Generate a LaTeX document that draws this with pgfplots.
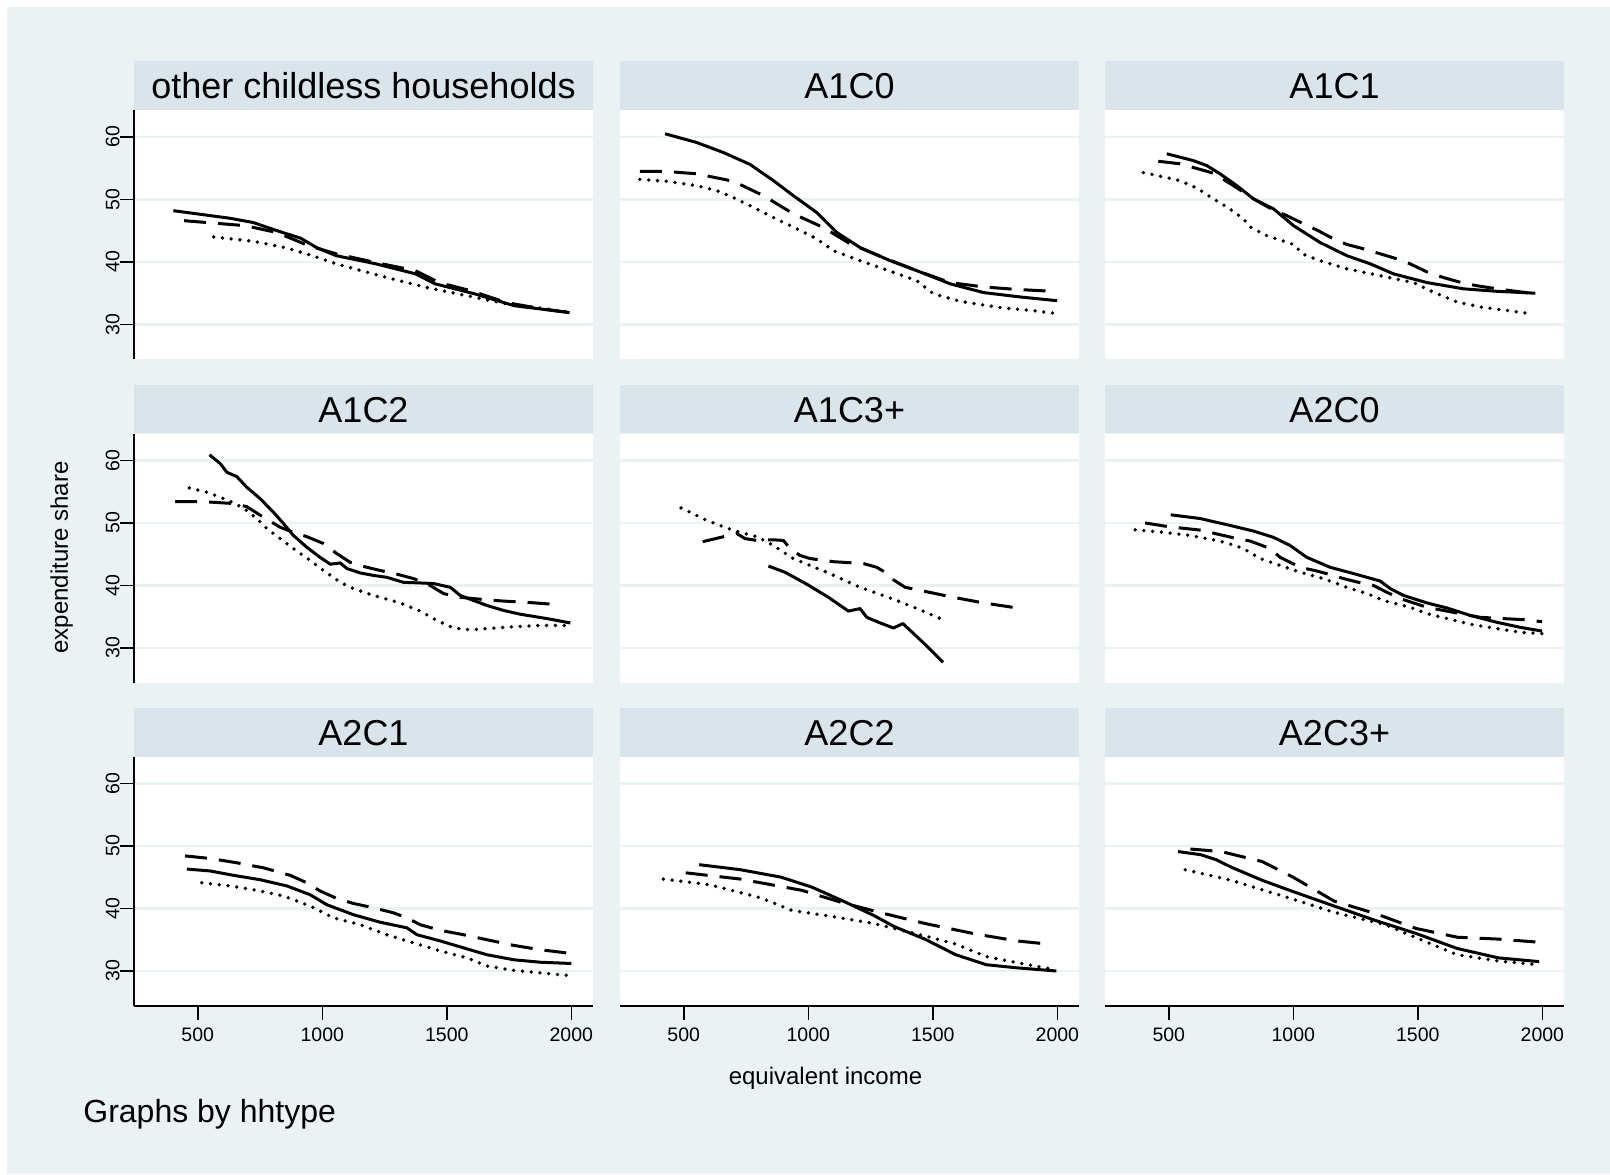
\documentclass[border=0pt]{standalone}
\usepackage{fontspec}
\setmainfont{Liberation Sans}
\usepackage{pgfplots}
\pgfplotsset{compat=1.18}
\definecolor{bgc}{RGB}{234,242,243}
\definecolor{stripc}{RGB}{217,229,234}
\definecolor{gridc}{RGB}{234,242,243}
\pgfplotsset{
  base/.style={
    scale only axis, width=229.5pt, height=124.75pt, anchor=south west,
    xmin=244, xmax=2087, ymin=24.4, ymax=64.3,
    axis lines*=left,
    xtick={500,1000,1500,2000}, ytick={30,40,50,60},
    ymajorgrids, grid style={gridc, line width=1.25pt},
    tick align=outside, major tick length=7pt,
    tick style={black, line width=0.75pt},
    axis line style={black, line width=1pt},
    axis background/.style={fill=white},
    ticklabel style={font=\fontsize{9.75}{11}\selectfont},
    /pgf/number format/assume math mode=true,
    /pgf/number format/1000 sep={},
    xticklabel style={anchor=north, inner sep=0pt, yshift=-3.5pt},
    yticklabel style={rotate=90, anchor=south, inner sep=0pt},
  },
  nox/.style={x axis line style={draw=none}, xtick style={draw=none}, xticklabels={}},
  noy/.style={y axis line style={draw=none}, ytick style={draw=none}, yticklabels={}},
  s1/.style={black, line width=1.5pt, line join=round},
  s2/.style={black, line width=1.5pt, line join=round, dash pattern=on 11pt off 6pt},
  s3/.style={black, line width=1.9pt, line cap=round, dash pattern=on 0pt off 4.4pt},
}
\begin{document}
\begin{tikzpicture}
\useasboundingbox (0,0) rectangle (805pt,587pt);
\fill[white] (0,0) rectangle (805pt,587pt);
\fill[bgc] (3.5pt,0) rectangle (805pt,583.5pt);
% strips
\foreach \cx in {67,310,552.5}{
  \foreach \ty in {556.25,394.5,233}{
    \fill[stripc] (\cx pt,\ty pt) rectangle ({\cx pt+229.5pt},{\ty pt-24.25pt});
  }
}
\tikzset{ttl/.style={anchor=base, inner sep=0pt, font=\fontsize{18}{20}\selectfont}}
\node[ttl] at (181.75pt,537.7pt) {other childless households};
\node[ttl] at (424.75pt,537.7pt) {A1C0};
\node[ttl] at (667.25pt,537.7pt) {A1C1};
\node[ttl] at (181.75pt,375.95pt) {A1C2};
\node[ttl] at (424.75pt,375.95pt) {A1C3+};
\node[ttl] at (667.25pt,375.95pt) {A2C0};
\node[ttl] at (181.75pt,214.45pt) {A2C1};
\node[ttl] at (424.75pt,214.45pt) {A2C2};
\node[ttl] at (667.25pt,214.45pt) {A2C3+};
\node[anchor=base, inner sep=0pt, font=\fontsize{12}{14}\selectfont] at (412.75pt,45pt) {equivalent income};
\node[anchor=base, inner sep=0pt, rotate=90, font=\fontsize{12}{14}\selectfont] at (33.9pt,308.25pt) {expenditure share};
\node[anchor=base west, inner sep=0pt, font=\fontsize{16}{18}\selectfont] at (41.5pt,25.85pt) {Graphs by hhtype};

% Panel 1
\begin{axis}[base, nox, at={(67pt,407.25pt)}]
\addplot[s1] coordinates {(402,48.2) (627,47.0) (723,46.3) (818,45.0) (913,43.8) (977,42.3) (1056,41.0) (1215,39.7) (1374,38.1) (1453,36.5) (1612,34.9) (1771,33.0) (1993,31.9)};
\addplot[s2] coordinates {(445,46.6) (691,45.8) (818,44.7) (945,42.6) (1056,41.3) (1215,39.9) (1374,38.6) (1469,36.7) (1596,35.4) (1739,33.5) (1882,32.5) (1993,31.9)};
\addplot[s3] coordinates {(564,44.0) (723,43.3) (850,42.3) (961,41.0) (1056,39.7) (1167,38.5) (1279,37.3) (1421,35.9) (1580,34.6) (1739,33.3) (1898,32.5) (1993,31.9)};
\end{axis}
% Panel 2
\begin{axis}[base, nox, noy, at={(310pt,407.25pt)}]
\addplot[s1] coordinates {(425,60.5) (552,59.1) (659,57.5) (766,55.6) (860,53.0) (940,50.6) (1034,47.9) (1115,44.7) (1208,42.3) (1329,40.2) (1436,38.6) (1570,36.5) (1704,35.1) (1851,34.4) (1999,33.8)};
\addplot[s2] coordinates {(324,54.5) (418,54.5) (552,54.1) (699,52.9) (820,50.6) (940,47.7) (1061,45.5) (1168,42.9) (1302,40.7) (1436,38.6) (1570,36.7) (1704,36.0) (1838,35.6) (1985,35.3)};
\addplot[s3] coordinates {(324,53.2) (432,52.9) (552,52.2) (633,51.4) (699,50.3) (766,49.0) (860,47.1) (954,45.3) (1034,43.7) (1101,41.8) (1208,40.2) (1302,38.9) (1436,37.0) (1503,34.9) (1610,33.7) (1771,32.7) (1905,32.2) (1985,31.8)};
\end{axis}
% Panel 3
\begin{axis}[base, nox, noy, at={(552.5pt,407.25pt)}]
\addplot[s1] coordinates {(492,57.3) (599,56.2) (653,55.4) (706,54.1) (773,52.2) (840,50.1) (920,48.5) (1001,45.8) (1108,43.1) (1215,41.0) (1309,39.7) (1402,38.1) (1537,36.7) (1684,35.7) (1818,35.3) (1972,35.0)};
\addplot[s2] coordinates {(458,56.1) (545,55.7) (599,55.1) (679,54.2) (760,52.2) (840,50.1) (920,48.3) (974,47.4) (1041,46.1) (1095,45.1) (1161,43.7) (1215,42.8) (1282,42.1) (1349,41.3) (1416,40.5) (1469,39.7) (1537,38.4) (1603,37.5) (1684,36.6) (1737,36.2) (1818,35.7) (1972,34.9)};
\addplot[s3] coordinates {(398,54.3) (478,53.6) (545,53.0) (613,51.8) (679,50.1) (733,48.8) (800,46.9) (827,45.6) (894,44.2) (1001,42.8) (1041,41.2) (1108,40.2) (1215,38.9) (1349,37.8) (1483,36.7) (1550,35.4) (1657,33.6) (1751,32.8) (1885,32.1) (1958,31.7)};
\end{axis}
% Panel 4
\begin{axis}[base, nox, at={(67pt,245.5pt)}]
\addplot[s1] coordinates {(547,60.9) (590,59.5) (617,58.1) (657,57.4) (697,55.7) (750,53.9) (804,51.7) (844,49.9) (884,48.0) (938,46.1) (991,44.5) (1032,43.4) (1072,43.6) (1099,42.7) (1152,42.0) (1206,41.6) (1259,41.3) (1326,40.5) (1393,40.4) (1447,40.3) (1514,39.7) (1554,38.4) (1607,37.6) (1661,36.8) (1728,36.0) (1795,35.4) (1902,34.7) (1996,34.0)};
\addplot[s2] coordinates {(409,53.4) (509,53.4) (563,53.3) (643,53.1) (697,52.6) (764,50.9) (831,49.3) (884,48.5) (938,47.8) (1005,46.7) (1058,45.1) (1112,43.7) (1179,42.9) (1232,42.4) (1300,41.8) (1366,41.1) (1433,40.0) (1487,38.7) (1554,38.1) (1634,37.8) (1728,37.5) (1822,37.3) (1922,37.0)};
\addplot[s3] coordinates {(466,55.6) (536,54.9) (617,53.7) (683,52.4) (737,50.7) (777,49.1) (831,47.5) (884,45.9) (951,44.0) (1005,42.4) (1072,40.5) (1125,39.5) (1206,38.4) (1313,37.2) (1393,35.9) (1460,34.4) (1527,33.2) (1594,32.9) (1661,33.1) (1768,33.4) (1875,33.6) (1983,33.6)};
\end{axis}
% Panel 5
\begin{axis}[base, nox, noy, at={(310pt,245.5pt)}]
\addplot[s1] coordinates {(840,43.1) (907,42.1) (994,40.2) (1081,38.1) (1161,35.9) (1208,36.3) (1235,34.9) (1289,34.0) (1342,33.2) (1380,33.9) (1463,30.8) (1541,27.7)};
\addplot[s2] coordinates {(576,47.0) (713,48.3) (746,47.5) (793,47.2) (860,47.3) (900,47.2) (927,45.9) (967,44.8) (1007,44.3) (1101,43.8) (1222,43.5) (1275,42.9) (1309,42.1) (1342,40.9) (1389,39.7) (1463,39.1) (1570,38.2) (1704,37.2) (1838,36.4)};
\addplot[s3] coordinates {(489,52.4) (592,50.4) (699,48.8) (793,47.8) (860,46.4) (940,44.3) (1075,42.1) (1208,39.7) (1342,37.8) (1449,36.1) (1530,34.7)};
\end{axis}
% Panel 6
\begin{axis}[base, nox, noy, at={(552.5pt,245.5pt)}]
\addplot[s1] coordinates {(508,51.3) (626,50.7) (746,49.6) (840,48.7) (920,47.7) (987,46.4) (1054,44.5) (1148,42.9) (1242,41.9) (1349,40.7) (1389,39.5) (1443,38.4) (1537,37.2) (1617,36.4) (1711,35.2) (1818,34.1) (1911,33.3) (1999,32.7)};
\addplot[s2] coordinates {(405,50.0) (498,49.4) (545,49.2) (639,48.8) (686,48.3) (773,47.5) (827,47.1) (907,45.9) (947,44.5) (1028,42.9) (1095,42.3) (1161,41.6) (1201,41.1) (1282,40.3) (1322,40.0) (1376,38.9) (1429,37.9) (1537,36.5) (1643,35.7) (1751,34.9) (1844,34.7) (1938,34.5) (1999,34.2)};
\addplot[s3] coordinates {(365,48.9) (478,48.5) (586,48.0) (679,47.3) (733,46.8) (800,45.9) (867,44.3) (947,43.2) (1028,42.1) (1121,41.1) (1215,39.7) (1296,38.7) (1362,37.6) (1469,36.5) (1537,35.5) (1617,34.7) (1711,33.8) (1818,33.1) (1911,32.5) (1999,32.3)};
\end{axis}
% Panel 7
\begin{axis}[base, at={(67pt,84pt)}]
\addplot[s1] coordinates {(456,46.3) (549,46.0) (643,45.3) (750,44.6) (858,43.6) (951,42.2) (1018,40.6) (1125,39.0) (1232,37.8) (1340,36.9) (1380,35.8) (1474,34.8) (1567,33.7) (1661,32.6) (1768,31.8) (1875,31.4) (2000,31.2)};
\addplot[s2] coordinates {(449,48.4) (549,48.0) (657,47.3) (764,46.5) (871,45.3) (938,44.1) (991,42.8) (1058,41.6) (1125,40.8) (1206,40.1) (1286,39.3) (1340,38.5) (1393,37.4) (1474,36.5) (1567,35.8) (1661,35.0) (1768,34.1) (1875,33.4) (2000,32.8)};
\addplot[s3] coordinates {(516,44.1) (630,43.6) (737,42.9) (844,42.0) (951,40.4) (1045,38.5) (1152,37.4) (1259,35.8) (1366,34.5) (1474,33.2) (1581,32.1) (1661,30.8) (1768,30.1) (1875,29.7) (1983,29.3)};
\end{axis}
% Panel 8
\begin{axis}[base, noy, at={(310pt,84pt)}]
\addplot[s1] coordinates {(562,47.0) (727,46.2) (891,45.0) (1015,43.4) (1139,41.2) (1262,38.9) (1345,37.1) (1468,35.1) (1592,32.6) (1715,31.0) (1839,30.5) (1996,30.0)};
\addplot[s2] coordinates {(508,45.7) (727,44.7) (974,42.9) (1139,40.9) (1303,39.2) (1468,37.6) (1674,35.9) (1839,34.8) (1963,34.3)};
\addplot[s3] coordinates {(418,44.7) (603,43.8) (809,41.7) (933,39.7) (1097,38.7) (1262,37.6) (1468,35.6) (1592,34.3) (1715,32.3) (1880,31.0) (1996,30.2)};
\end{axis}
% Panel 9
\begin{axis}[base, noy, at={(552.5pt,84pt)}]
\addplot[s1] coordinates {(537,49.1) (628,48.6) (690,47.8) (751,46.6) (875,44.5) (999,42.7) (1163,40.4) (1328,38.1) (1493,36.0) (1658,33.6) (1823,32.1) (1987,31.5)};
\addplot[s2] coordinates {(587,49.5) (710,49.1) (875,47.5) (999,45.0) (1163,41.2) (1328,39.2) (1493,36.8) (1658,35.4) (1823,35.1) (1987,34.6)};
\addplot[s3] coordinates {(566,46.2) (751,44.5) (957,42.0) (1163,39.4) (1369,37.4) (1513,35.0) (1658,32.6) (1823,31.6) (1987,31.0)};
\end{axis}
\end{tikzpicture}
\end{document}
